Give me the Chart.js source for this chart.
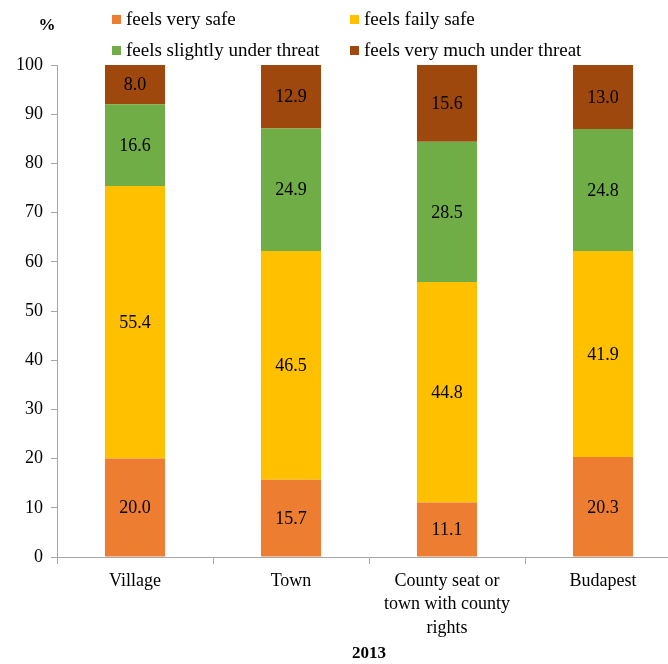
<!DOCTYPE html>
<html>
<head>
<meta charset="utf-8">
<script src="https://cdn.jsdelivr.net/npm/chart.js@4/dist/chart.umd.min.js"></script>
<style>
  html, body { margin: 0; padding: 0; background: #fff; overflow: hidden; }
  #wrap { width: 684px; height: 664px; }
</style>
</head>
<body>
<div id="wrap"><canvas id="c" width="684" height="664"></canvas></div>
<script>
// Settlement types (x categories)
const categories = ['Village', 'Town', ['County seat or', 'town with county', 'rights'], 'Budapest'];

// Share of respondents (%) per safety feeling
const veryUnsafeLabel = 'feels very much under threat';
const feelsVerySafe = [20.0, 15.7, 11.1, 20.3];
const feelsFailySafe = [55.4, 46.5, 44.8, 41.9];
const feelsSlightlyThreat = [16.6, 24.9, 28.5, 24.8];
const feelsVeryMuchThreat = [8.0, 12.9, 15.6, 13.0];

const yTicks = [0, 10, 20, 30, 40, 50, 60, 70, 80, 90, 100];

const serif = '"Liberation Serif", "Times New Roman", serif';

// Two-row legend at the top, plus the "%" unit label
const topLegend = {
  id: 'topLegend',
  afterDraw(chart) {
    const ctx = chart.ctx;
    const items = chart.data.datasets;
    const pos = [[112, 19], [350, 19], [112, 50], [350, 50]];
    ctx.save();
    ctx.font = '19px ' + serif;
    ctx.textBaseline = 'middle';
    ctx.textAlign = 'left';
    items.forEach((ds, i) => {
      const [x, y] = pos[i];
      ctx.fillStyle = ds.backgroundColor;
      ctx.fillRect(x, y - 4, 9, 9);
      ctx.fillStyle = '#000';
      ctx.fillText(ds.label, x + 14, y + 1);
    });
    ctx.font = 'bold 17px ' + serif;
    ctx.textAlign = 'center';
    ctx.fillText('%', 47, 26);
    ctx.restore();
  }
};

// Value labels centred in each stacked segment
const segmentLabels = {
  id: 'segmentLabels',
  afterDatasetsDraw(chart) {
    const ctx = chart.ctx;
    ctx.save();
    ctx.font = '18px ' + serif;
    ctx.fillStyle = '#000';
    ctx.textAlign = 'center';
    ctx.textBaseline = 'middle';
    chart.data.datasets.forEach((ds, di) => {
      const meta = chart.getDatasetMeta(di);
      meta.data.forEach((bar, i) => {
        const v = ds.data[i];
        const y = (bar.y + bar.base) / 2;
        ctx.fillText(v.toFixed(1), bar.x, y + 1);
      });
    });
    ctx.restore();
  }
};

new Chart(document.getElementById('c'), {
  type: 'bar',
  data: {
    labels: categories,
    datasets: [
      { label: 'feels very safe', data: feelsVerySafe, backgroundColor: '#ED7D31' },
      { label: 'feels faily safe', data: feelsFailySafe, backgroundColor: '#FFC000' },
      { label: 'feels slightly under threat', data: feelsSlightlyThreat, backgroundColor: '#70AD47' },
      { label: veryUnsafeLabel, data: feelsVeryMuchThreat, backgroundColor: '#9E480E' }
    ]
  },
  options: {
    responsive: false,
    animation: false,
    devicePixelRatio: 1,
    layout: { padding: { top: 65, right: 3, left: 0, bottom: 0 } },
    datasets: { bar: { barPercentage: 0.385, categoryPercentage: 1.0, borderWidth: 0 } },
    plugins: {
      legend: { display: false },
      tooltip: { enabled: false }
    },
    scales: {
      x: {
        stacked: true,
        offset: true,
        grid: { display: true, offset: true, drawOnChartArea: false, tickLength: 7, color: '#A6A6A6' },
        border: { color: '#A6A6A6', width: 1 },
        ticks: {
          color: '#000',
          font: { family: serif, size: 18, lineHeight: 1.32 },
          padding: 5,
          maxRotation: 0,
          autoSkip: false
        },
        title: {
          display: true,
          text: '2013',
          color: '#000',
          font: { family: serif, size: 17, weight: 'bold' },
          padding: { top: 4, bottom: 0 }
        },
        afterFit(scale) { scale.height = 107; }
      },
      y: {
        stacked: true,
        min: 0,
        max: 100,
        afterBuildTicks(scale) { scale.ticks = yTicks.map(v => ({ value: v })); },
        grid: { display: true, drawOnChartArea: false, tickLength: 6, color: '#A6A6A6' },
        border: { color: '#A6A6A6', width: 1 },
        ticks: {
          color: '#000',
          font: { family: serif, size: 18 },
          padding: 8
        },
        afterFit(scale) { scale.width = 57; }
      }
    }
  },
  plugins: [topLegend, segmentLabels]
});
</script>
</body>
</html>
